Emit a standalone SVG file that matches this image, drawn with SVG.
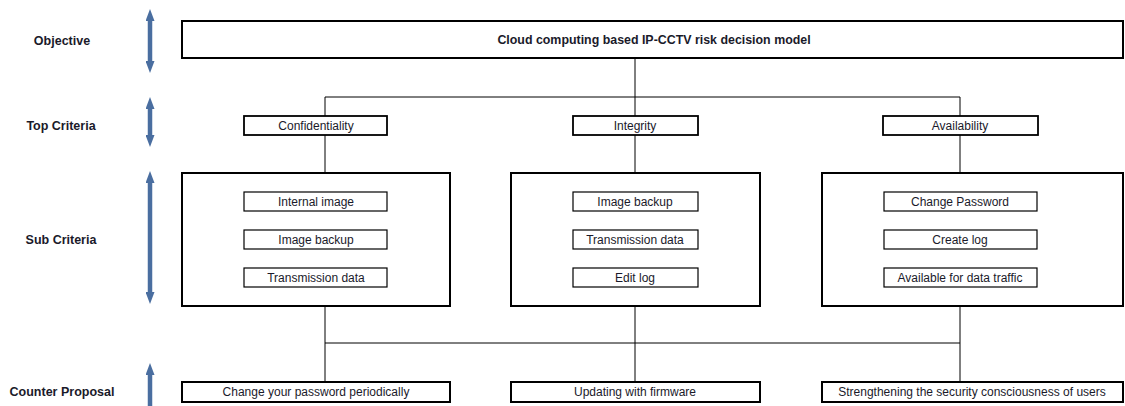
<svg xmlns="http://www.w3.org/2000/svg" width="1125" height="406" viewBox="0 0 1125 406">
<style>
.lbl{font-family:"Liberation Sans",Arial,sans-serif;font-size:12.5px;font-weight:bold;fill:#1a1a2a;text-anchor:middle}
.t{font-family:"Liberation Sans",Arial,sans-serif;font-size:12px;fill:#1a1a2a;text-anchor:middle}
.tb{font-family:"Liberation Sans",Arial,sans-serif;font-size:12.4px;font-weight:bold;fill:#1a1a2a;text-anchor:middle}
.big{fill:#fff;stroke:#000;stroke-width:2}
.mid{fill:#fff;stroke:#000;stroke-width:1.8}
.small{fill:#fff;stroke:#000;stroke-width:1.2}
.conn{fill:none;stroke:#000;stroke-width:1}
.ax{stroke:#4A6EA0;stroke-width:4.5;fill:none}
</style>
<defs>
<marker id="ah" viewBox="0 0 12 9" refX="2" refY="4.5" markerWidth="12" markerHeight="9" markerUnits="userSpaceOnUse" orient="auto-start-reverse">
<path d="M0,0 L12,4.5 L0,9 Z" fill="#4A6EA0"/>
</marker>
</defs>
<rect width="1125" height="406" fill="#fff"/>
<g id="levels">
<text class="lbl" x="62" y="45">Objective</text>
<text class="lbl" x="61" y="130">Top Criteria</text>
<text class="lbl" x="61" y="244">Sub Criteria</text>
<text class="lbl" x="62" y="396">Counter Proposal</text>
<line class="ax" x1="150" y1="19" x2="150" y2="63" marker-start="url(#ah)" marker-end="url(#ah)"/>
<line class="ax" x1="150" y1="107" x2="150" y2="137" marker-start="url(#ah)" marker-end="url(#ah)"/>
<line class="ax" x1="150" y1="181" x2="150" y2="294" marker-start="url(#ah)" marker-end="url(#ah)"/>
<line class="ax" x1="150" y1="406" x2="150" y2="373" marker-end="url(#ah)"/>
</g>
<g id="connectors">
<path class="conn" d="M635,58 V97 M325,116 V97 H960 V116 M635,97 V116"/>
<path class="conn" d="M325,135 V173 M635,135 V173 M960,135 V173"/>
<path class="conn" d="M325,306 V382 M635,306 V382 M960,306 V382 M325,343 H960"/>
</g>
<g id="objective">
<rect class="big" x="182" y="21" width="941" height="37"/>
<text class="tb" x="654" y="44">Cloud computing based IP-CCTV risk decision model</text>
</g>
<g id="confidentiality">
<rect class="mid" x="244" y="116" width="143" height="19"/>
<text class="t" x="316" y="130">Confidentiality</text>
</g>
<g id="integrity">
<rect class="mid" x="573" y="116" width="125" height="19"/>
<text class="t" x="635" y="130">Integrity</text>
</g>
<g id="availability">
<rect class="mid" x="883" y="116" width="155" height="19"/>
<text class="t" x="960" y="130">Availability</text>
</g>
<g id="sub-confidentiality">
<rect class="big" x="182" y="173" width="268" height="133"/>
<rect class="small" x="244" y="192" width="143" height="19"/>
<text class="t" x="316" y="206">Internal image</text>
<rect class="small" x="244" y="230" width="143" height="19"/>
<text class="t" x="316" y="244">Image backup</text>
<rect class="small" x="244" y="268" width="143" height="19"/>
<text class="t" x="316" y="282">Transmission data</text>
</g>
<g id="sub-integrity">
<rect class="big" x="511" y="173" width="249" height="133"/>
<rect class="small" x="573" y="192" width="125" height="19"/>
<text class="t" x="635" y="206">Image backup</text>
<rect class="small" x="573" y="230" width="125" height="19"/>
<text class="t" x="635" y="244">Transmission data</text>
<rect class="small" x="573" y="268" width="125" height="19"/>
<text class="t" x="635" y="282">Edit log</text>
</g>
<g id="sub-availability">
<rect class="big" x="822" y="173" width="301" height="133"/>
<rect class="small" x="884" y="192" width="153" height="19"/>
<text class="t" x="960" y="206">Change Password</text>
<rect class="small" x="884" y="230" width="153" height="19"/>
<text class="t" x="960" y="244">Create log</text>
<rect class="small" x="884" y="268" width="153" height="19"/>
<text class="t" x="960" y="282">Available for data traffic</text>
</g>
<g id="counter-1">
<rect class="big" x="182" y="382" width="268" height="20"/>
<text class="t" x="316" y="396">Change your password periodically</text>
</g>
<g id="counter-2">
<rect class="big" x="511" y="382" width="249" height="20"/>
<text class="t" x="635" y="396">Updating with firmware</text>
</g>
<g id="counter-3">
<rect class="big" x="822" y="382" width="301" height="20"/>
<text class="t" x="972" y="396">Strengthening the security consciousness of users</text>
</g>
</svg>
